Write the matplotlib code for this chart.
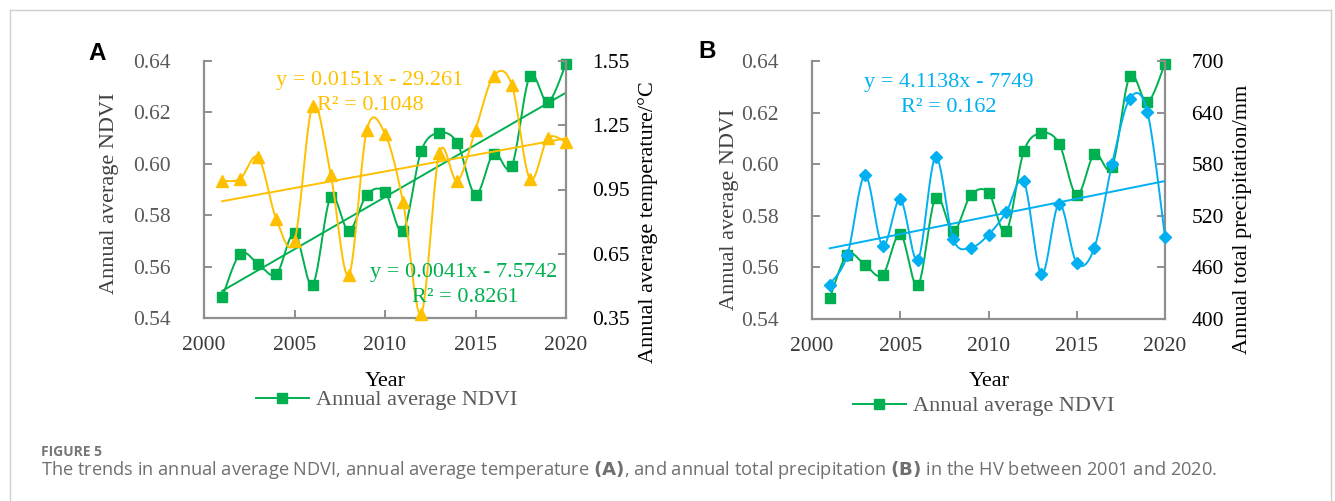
import numpy as np
import matplotlib
matplotlib.use("Agg")
import matplotlib.pyplot as plt
from matplotlib.lines import Line2D

# ---------------- data ----------------
years = [2001, 2002, 2003, 2004, 2005, 2006, 2007, 2008, 2009, 2010,
         2011, 2012, 2013, 2014, 2015, 2016, 2017, 2018, 2019, 2020]
ndvi = [0.548, 0.565, 0.561, 0.557, 0.573, 0.553, 0.587, 0.574, 0.588, 0.589,
        0.574, 0.605, 0.612, 0.608, 0.588, 0.604, 0.599, 0.634, 0.624, 0.639]
temperature = [0.99, 1.00, 1.10, 0.81, 0.71, 1.34, 1.02, 0.55, 1.23, 1.21,
               0.89, 0.37, 1.12, 0.99, 1.23, 1.48, 1.44, 1.00, 1.19, 1.17]
precipitation = [440, 474, 567, 485, 539, 469, 588, 493, 483, 498,
                 524, 560, 452, 534, 465, 483, 580, 656, 641, 495]

ndvi_ticks = [0.54, 0.56, 0.58, 0.60, 0.62, 0.64]
temp_ticks = [0.35, 0.65, 0.95, 1.25, 1.55]
prec_ticks = [400, 460, 520, 580, 640, 700]
year_ticks = [2000, 2005, 2010, 2015, 2020]

eq_temp = ["y = 0.0151x - 29.261", "R² = 0.1048"]
eq_ndvi = ["y = 0.0041x - 7.5742", "R² = 0.8261"]
eq_prec = ["y = 4.1138x - 7749", "R² = 0.162"]

GREEN = "#00B050"
ORANGE = "#FFC000"
BLUE = "#00B0F0"
SPINE = "#8f8f8f"

W, H = 1335, 501
plt.rcParams["font.family"] = ["Liberation Serif", "DejaVu Serif"]
fig = plt.figure(figsize=(W / 100, H / 100), dpi=100)


def fx(x):
    return x / W


def fy(y):
    return 1 - y / H


def smooth(x, y, n=24):
    x = np.asarray(x, float)
    y = np.asarray(y, float)
    P = np.column_stack([x, y])
    out = []
    m = len(P)
    t = np.linspace(0, 1, n)[:, None]
    for i in range(m - 1):
        p0 = P[i - 1] if i > 0 else P[i]
        p1 = P[i]
        p2 = P[i + 1]
        p3 = P[i + 2] if i + 2 < m else P[i + 1]
        c1 = p1 + (p2 - p0) / 6
        c2 = p2 - (p3 - p1) / 6
        seg = ((1 - t) ** 3) * p1 + 3 * ((1 - t) ** 2) * t * c1 + 3 * (1 - t) * t ** 2 * c2 + t ** 3 * p2
        out.append(seg if i == 0 else seg[1:])
    S = np.vstack(out)
    return S[:, 0], S[:, 1]


def style_axes(ax, ax2):
    for a in (ax, ax2):
        for s in a.spines.values():
            s.set_color(SPINE)
            s.set_linewidth(1.6)
        a.spines["top"].set_visible(False)
    ax.spines["right"].set_visible(False)
    ax2.spines["left"].set_visible(False)
    ax2.spines["bottom"].set_visible(False)
    ax.tick_params(axis="y", direction="in", length=6, width=1.4, color=SPINE,
                   labelsize=15.5, labelcolor="#595959", pad=24)
    ax.tick_params(axis="x", direction="in", length=6, width=1.4, color=SPINE,
                   labelsize=15.5, labelcolor="#3a3a3a", pad=13)
    ax2.tick_params(axis="y", direction="in", length=6, width=1.4, color=SPINE,
                    labelsize=15.5, labelcolor="black", pad=19)
    ax.set_xlim(2000, 2020)
    ax.set_xticks(year_ticks)
    ax.set_xticklabels([str(v) for v in year_ticks])
    ax.set_ylim(0.54, 0.64)
    ax.set_yticks(ndvi_ticks)
    ax.set_yticklabels([f"{v:.2f}" for v in ndvi_ticks])


def trend(xs, ys):
    c = np.polyfit(xs, ys, 1)
    xx = np.array([xs[0], xs[-1]], float)
    return xx, np.polyval(c, xx)


# ---------------- panel A ----------------
axA = fig.add_axes([fx(204), fy(318), fx(566) - fx(204), fy(61) - fy(318)])
axA2 = axA.twinx()
style_axes(axA, axA2)
axA2.set_ylim(0.35, 1.55)
axA2.set_yticks(temp_ticks)
axA2.set_yticklabels([f"{v:.2f}" for v in temp_ticks])

sx, sy = smooth(years, ndvi)
axA.plot(sx, sy, color=GREEN, lw=1.4, zorder=3, clip_on=False)
axA.plot(years, ndvi, ls="none", marker="s", ms=7.5, color=GREEN, zorder=4, clip_on=False)
tx, ty = trend(years, ndvi)
axA.plot(tx, ty, color=GREEN, lw=1.4, zorder=3)

sx, sy = smooth(years, temperature)
axA2.plot(sx, sy, color=ORANGE, lw=1.4, zorder=3, clip_on=False)
axA2.plot(years, temperature, ls="none", marker="^", ms=9, color=ORANGE, zorder=4, clip_on=False)
tx, ty = trend(years, temperature)
axA2.plot(tx, ty, color=ORANGE, lw=1.4, zorder=3)

# ---------------- panel B ----------------
axB = fig.add_axes([fx(812), fy(319), fx(1165) - fx(812), fy(61) - fy(319)])
axB2 = axB.twinx()
style_axes(axB, axB2)
axB2.set_ylim(400, 700)
axB2.set_yticks(prec_ticks)
axB2.set_yticklabels([str(v) for v in prec_ticks])

sx, sy = smooth(years, ndvi)
axB.plot(sx, sy, color=GREEN, lw=1.4, zorder=3, clip_on=False)
axB.plot(years, ndvi, ls="none", marker="s", ms=7.5, color=GREEN, zorder=4, clip_on=False)

sx, sy = smooth(years, precipitation)
axB2.plot(sx, sy, color=BLUE, lw=1.4, zorder=3, clip_on=False)
axB2.plot(years, precipitation, ls="none", marker="D", ms=6.5, color=BLUE, zorder=4, clip_on=False)
tx, ty = trend(years, precipitation)
axB2.plot(tx, ty, color=BLUE, lw=1.4, zorder=3)

# ---------------- texts ----------------
FS = 16
fig.text(fx(110), fy(193), "Annual average NDVI", rotation=90, ha="center", va="center",
         fontsize=FS, color="#404040")
fig.text(fx(729), fy(209), "Annual average NDVI", rotation=90, ha="center", va="center",
         fontsize=FS, color="#404040")
fig.text(fx(648), fy(222), "Annual average temperature/°C", rotation=90, ha="center",
         va="center", fontsize=FS, color="black")
fig.text(fx(1243), fy(219), "Annual total precipitation/mm", rotation=90, ha="center",
         va="center", fontsize=FS, color="black")
fig.text(fx(385), fy(381), "Year", ha="center", va="center", fontsize=FS, color="black")
fig.text(fx(989), fy(382), "Year", ha="center", va="center", fontsize=FS, color="black")

fig.text(fx(370), fy(80), eq_temp[0], ha="center", va="center", fontsize=FS, color=ORANGE)
fig.text(fx(370), fy(105), eq_temp[1], ha="center", va="center", fontsize=FS, color=ORANGE)
fig.text(fx(464), fy(273), eq_ndvi[0], ha="center", va="center", fontsize=FS, color=GREEN)
fig.text(fx(465), fy(297), eq_ndvi[1], ha="center", va="center", fontsize=FS, color=GREEN)
fig.text(fx(949), fy(82), eq_prec[0], ha="center", va="center", fontsize=FS, color=BLUE)
fig.text(fx(949), fy(107), eq_prec[1], ha="center", va="center", fontsize=FS, color=BLUE)

fig.text(fx(97), fy(53), "A", ha="center", va="center", fontsize=17.5, fontweight="bold",
         family=["Liberation Sans", "DejaVu Sans"])
fig.text(fx(707), fy(52), "B", ha="center", va="center", fontsize=17.5, fontweight="bold",
         family=["Liberation Sans", "DejaVu Sans"])

# legends
proxy = Line2D([], [], color=GREEN, lw=1.4, marker="s", ms=7.5)
for cx, cy in [(386.5, 400), (983.5, 406)]:
    leg = fig.legend(handles=[proxy], labels=["Annual average NDVI"], loc="center",
                     bbox_to_anchor=(fx(cx), fy(cy)), frameon=False, fontsize=FS,
                     handlelength=2.4, handletextpad=0.3, borderpad=0)
    for t in leg.get_texts():
        t.set_color("#595959")

# caption
cap_font = ["Open Sans", "DejaVu Sans"]
fig.text(fx(41), fy(452), "FIGURE 5", ha="left", va="center", fontsize=10,
         fontweight="bold", color="#777777", family=cap_font)
cap = fig.text(fx(41), fy(470),
               "The trends in annual average NDVI, annual average temperature $\\mathbf{(A)}$, "
               "and annual total precipitation $\\mathbf{(B)}$ in the HV between 2001 and 2020.",
               ha="left", va="center", fontsize=11, color="#707070", family=cap_font)

# border (open at bottom)
border_kw = dict(color="#cfcfcf", lw=1.0, transform=fig.transFigure)
fig.add_artist(Line2D([fx(9.5), fx(9.5)], [0, fy(9.5)], **border_kw))
fig.add_artist(Line2D([fx(9.5), fx(1331)], [fy(9.5), fy(9.5)], **border_kw))
fig.add_artist(Line2D([fx(1331), fx(1331)], [0, fy(9.5)], **border_kw))

# fit caption width to reference (~1172 px)
fig.canvas.draw()
r = fig.canvas.get_renderer()
w = cap.get_window_extent(r).width
cap.set_fontsize(11 * 1172 / w)

fig.savefig("out.png", dpi=100)
